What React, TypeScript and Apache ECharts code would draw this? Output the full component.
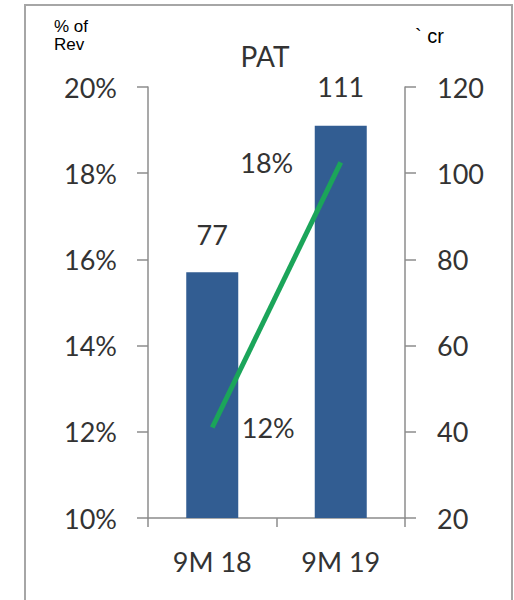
import React, { useEffect, useRef } from "react";
import * as echarts from "echarts";

const categories = ["9M 18", "9M 19"];
const patValues = [77, 111];
const marginValues = [12.1, 18.25];
const leftTicks = { min: 10, max: 20, interval: 2 };
const rightTicks = { min: 20, max: 120, interval: 20 };

const FONT = "Lato, 'Open Sans', sans-serif";
const TXT = "#333333";
const FS = 27;

export default function App() {
  const ref = useRef<HTMLDivElement>(null);
  useEffect(() => {
    if (!ref.current) return;
    const chart = echarts.init(ref.current, undefined, { renderer: "svg" });
    chart.setOption({
      animation: false,
      backgroundColor: "#ffffff",
      grid: { left: 148, right: 109, top: 87, bottom: 82 },
      xAxis: {
        type: "category",
        data: categories,
        axisLine: { lineStyle: { color: "#8c8c8c", width: 1.5 } },
        axisTick: { show: true, length: 9, lineStyle: { color: "#8c8c8c", width: 1.5 } },
        axisLabel: { color: TXT, fontFamily: FONT, fontSize: FS, margin: 30 },
      },
      yAxis: [
        {
          type: "value",
          ...leftTicks,
          position: "left",
          splitLine: { show: false },
          axisLine: { show: true, lineStyle: { color: "#8c8c8c", width: 1.5 } },
          axisTick: { show: true, length: 11, lineStyle: { color: "#8c8c8c", width: 1.5 } },
          axisLabel: { color: TXT, fontFamily: FONT, fontSize: FS, margin: 31, formatter: "{value}%" },
        },
        {
          type: "value",
          ...rightTicks,
          position: "right",
          splitLine: { show: false },
          axisLine: { show: true, lineStyle: { color: "#8c8c8c", width: 1.5 } },
          axisTick: { show: true, length: 11, lineStyle: { color: "#8c8c8c", width: 1.5 } },
          axisLabel: { color: TXT, fontFamily: FONT, fontSize: FS, margin: 32 },
        },
      ],
      series: [
        {
          type: "bar",
          yAxisIndex: 1,
          data: patValues.map((v, i) => ({
            value: v,
            label: { distance: i === 0 ? 24 : 26 },
          })),
          barWidth: 52,
          itemStyle: { color: "#325d92" },
          label: {
            show: true,
            position: "top",
            color: TXT,
            fontFamily: FONT,
            fontSize: FS,
          },
          z: 2,
        },
        {
          type: "line",
          yAxisIndex: 0,
          data: marginValues.map((v, i) => ({
            value: v,
            label: {
              position: i === 0 ? "right" : "left",
              distance: i === 0 ? 29 : 47,
              offset: i === 0 ? [0, 0] : [0, -8],
            },
          })),
          symbol: "circle",
          symbolSize: 1,
          showSymbol: true,
          itemStyle: { color: "rgba(0,0,0,0)" },
          lineStyle: { color: "#1ba55a", width: 5 },
          label: {
            show: true,
            color: TXT,
            fontFamily: FONT,
            fontSize: FS,
            formatter: (p: any) => Math.round(p.value) + "%",
          },
          labelLayout: { hideOverlap: false },
          z: 3,
        },
      ],
      graphic: [
        {
          type: "rect",
          shape: { x: 25, y: 5, width: 487, height: 620 },
          style: { fill: "none", stroke: "#a6a6a6", lineWidth: 2 },
          silent: true,
        },
        {
          type: "text",
          x: 265,
          y: 56,
          style: { text: "PAT", fill: TXT, font: `28px ${FONT}`, align: "center", verticalAlign: "middle" },
        },
        {
          type: "text",
          x: 54,
          y: 26,
          style: { text: "% of", fill: "#000", font: "17px 'Liberation Sans', Arial, sans-serif", verticalAlign: "middle" },
        },
        {
          type: "text",
          x: 54,
          y: 44,
          style: { text: "Rev", fill: "#000", font: "17px 'Liberation Sans', Arial, sans-serif", verticalAlign: "middle" },
        },
        {
          type: "text",
          x: 415,
          y: 36,
          style: { text: "` cr", fill: "#000", font: "20px 'Liberation Sans', Arial, sans-serif", verticalAlign: "middle" },
        },
      ],
    });
    return () => chart.dispose();
  }, []);
  return (
    <div
      ref={ref}
      style={{ position: "fixed", left: 0, top: 0, width: 514, height: 600, background: "#fff" }}
    />
  );
}
